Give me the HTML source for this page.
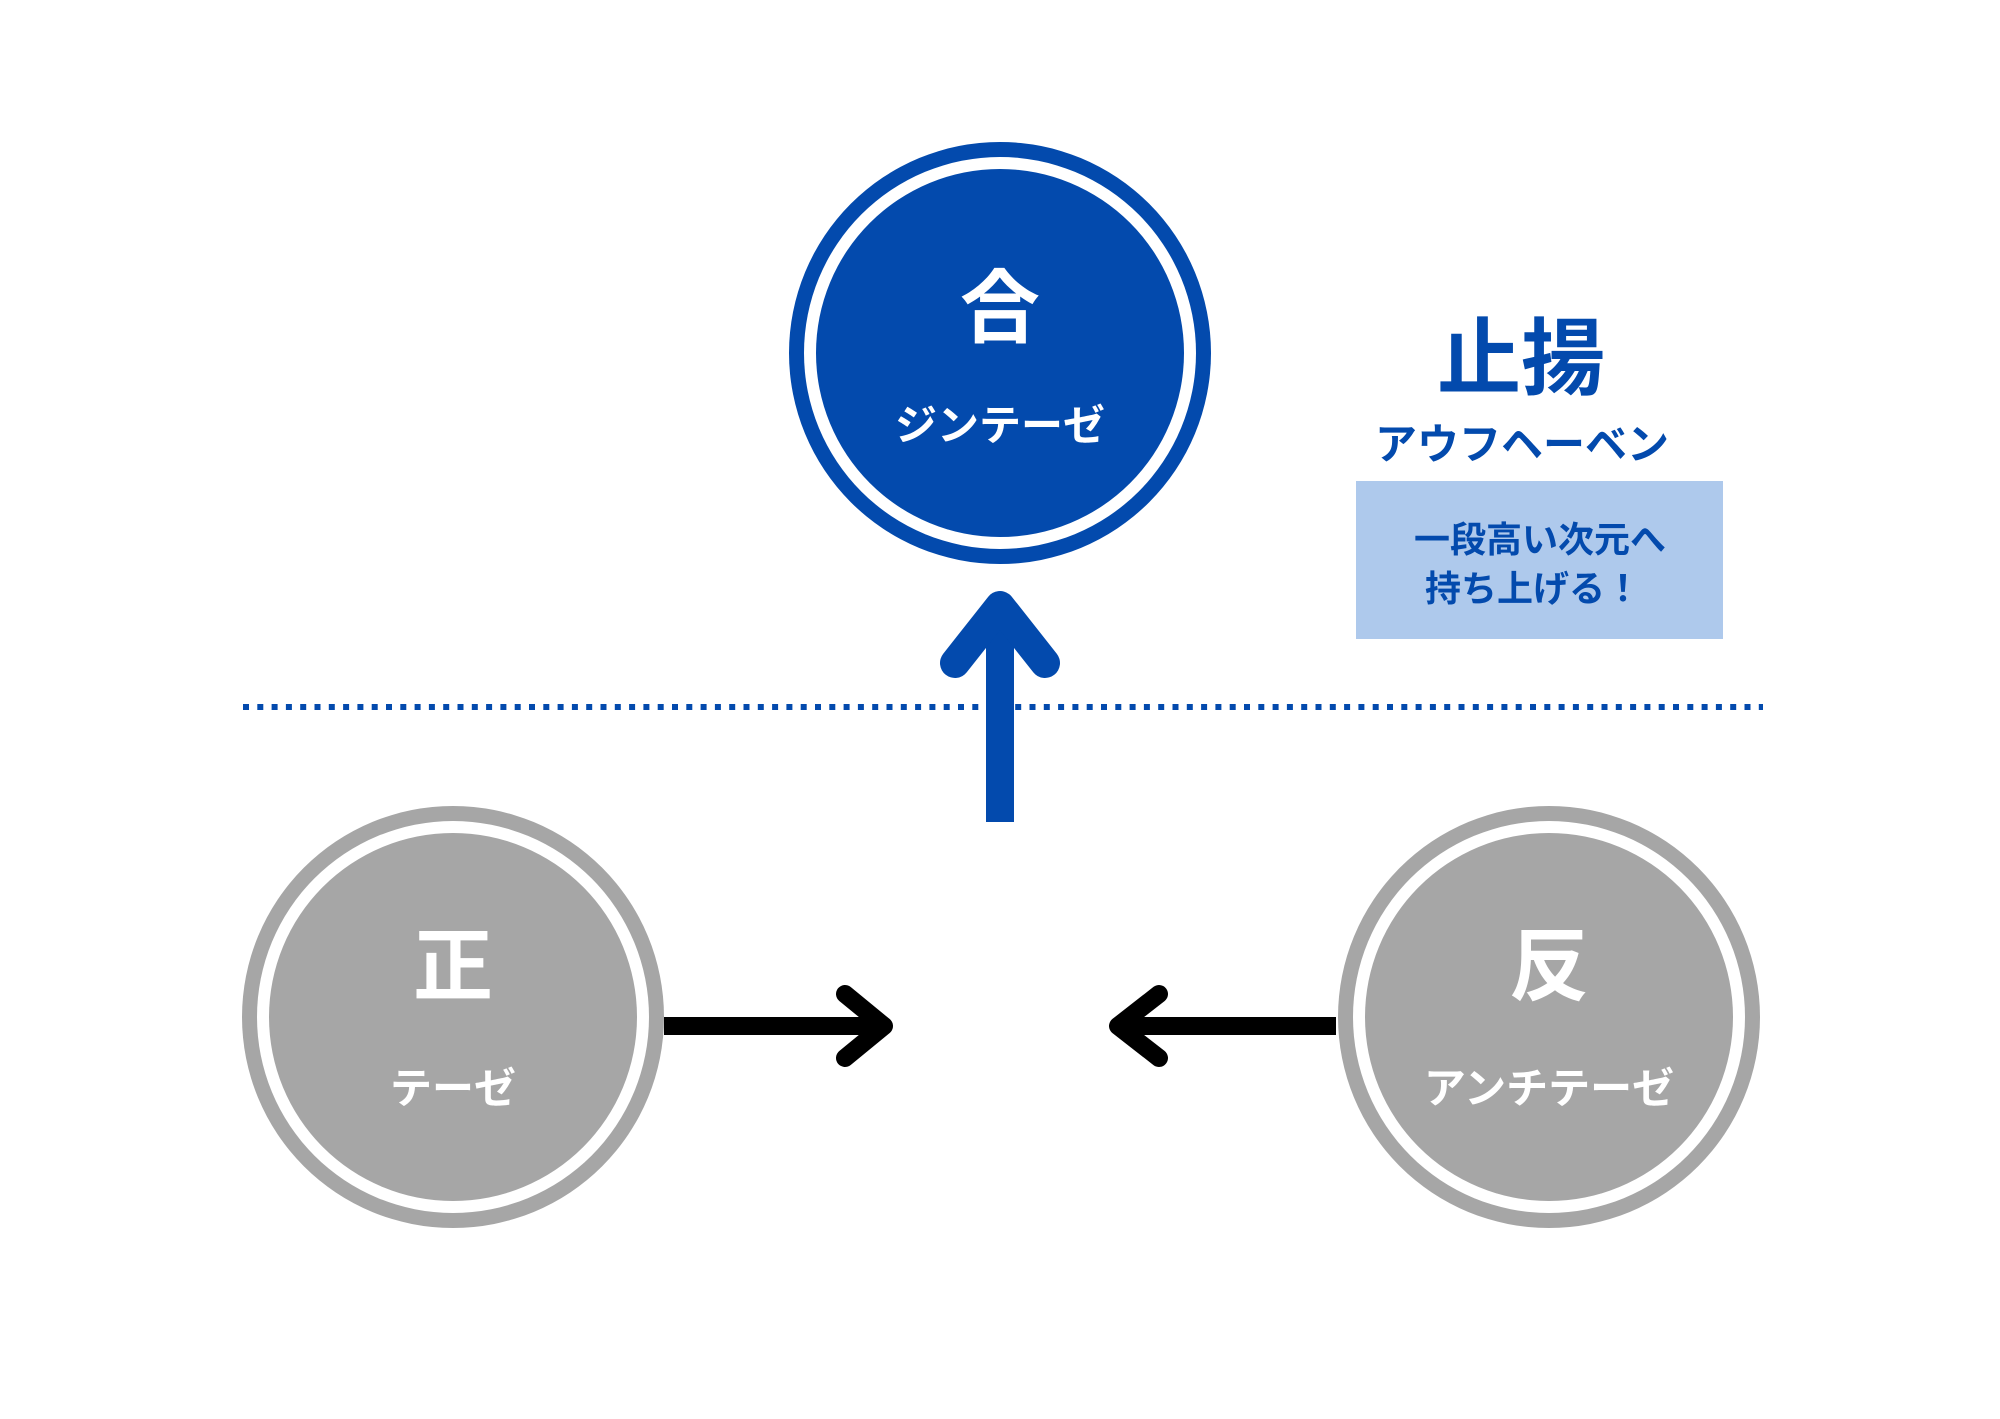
<!DOCTYPE html>
<html><head><meta charset="utf-8"><style>
html,body{margin:0;padding:0;background:#fff;}
body{width:2000px;height:1414px;overflow:hidden;}
text{font-family:"Liberation Sans","Noto Sans CJK JP",sans-serif;font-weight:bold;}
</style></head><body>
<svg width="2000" height="1414" viewBox="0 0 2000 1414" xmlns="http://www.w3.org/2000/svg">
<rect width="2000" height="1414" fill="#fff"/>
<line x1="243" y1="707" x2="1763" y2="707" stroke="#034aad" stroke-width="6" stroke-dasharray="6 8.3"/>
<circle cx="1000" cy="353" r="211" fill="#034aad"/>
<circle cx="1000" cy="353" r="196" fill="#fff"/>
<circle cx="1000" cy="353" r="184" fill="#034aad"/>
<text x="1000" y="336" font-size="80" fill="#fff" text-anchor="middle">合</text>
<text x="1000" y="440" font-size="42" fill="#fff" text-anchor="middle">ジンテーゼ</text>
<rect x="986" y="630" width="28" height="192" fill="#034aad"/>
<polygon points="986,640 1000,620 1014,640" fill="#034aad"/>
<polyline points="955,663 1000,606 1045,663" fill="none" stroke="#034aad" stroke-width="30" stroke-linecap="round" stroke-linejoin="round"/>
<circle cx="453" cy="1017" r="211" fill="#a6a6a6"/>
<circle cx="453" cy="1017" r="196" fill="#fff"/>
<circle cx="453" cy="1017" r="184" fill="#a6a6a6"/>
<text x="453" y="994" font-size="80" fill="#fff" text-anchor="middle">正</text>
<text x="453" y="1103" font-size="42" fill="#fff" text-anchor="middle">テーゼ</text>
<circle cx="1549" cy="1017" r="211" fill="#a6a6a6"/>
<circle cx="1549" cy="1017" r="196" fill="#fff"/>
<circle cx="1549" cy="1017" r="184" fill="#a6a6a6"/>
<text x="1549" y="994" font-size="80" fill="#fff" text-anchor="middle">反</text>
<text x="1549" y="1103" font-size="42" fill="#fff" text-anchor="middle">アンチテーゼ</text>
<rect x="664" y="1017" width="215" height="18" fill="#000"/>
<polyline points="845,994 884,1026 845,1058" fill="none" stroke="#000" stroke-width="18" stroke-linecap="round" stroke-linejoin="round"/>
<rect x="1122" y="1017" width="214" height="18" fill="#000"/>
<polyline points="1159,994 1118,1026 1159,1058" fill="none" stroke="#000" stroke-width="18" stroke-linecap="round" stroke-linejoin="round"/>
<text x="1521" y="388" font-size="84" fill="#034aad" text-anchor="middle">止揚</text>
<text x="1522" y="459" font-size="42" fill="#034aad" text-anchor="middle">アウフヘーベン</text>
<rect x="1356" y="481" width="367" height="158" fill="#aec9ec"/>
<text x="1540" y="552" font-size="36" fill="#034aad" text-anchor="middle">一段高い次元へ</text>
<text x="1533" y="601" font-size="36" fill="#034aad" text-anchor="middle">持ち上げる！</text>
</svg>
</body></html>
